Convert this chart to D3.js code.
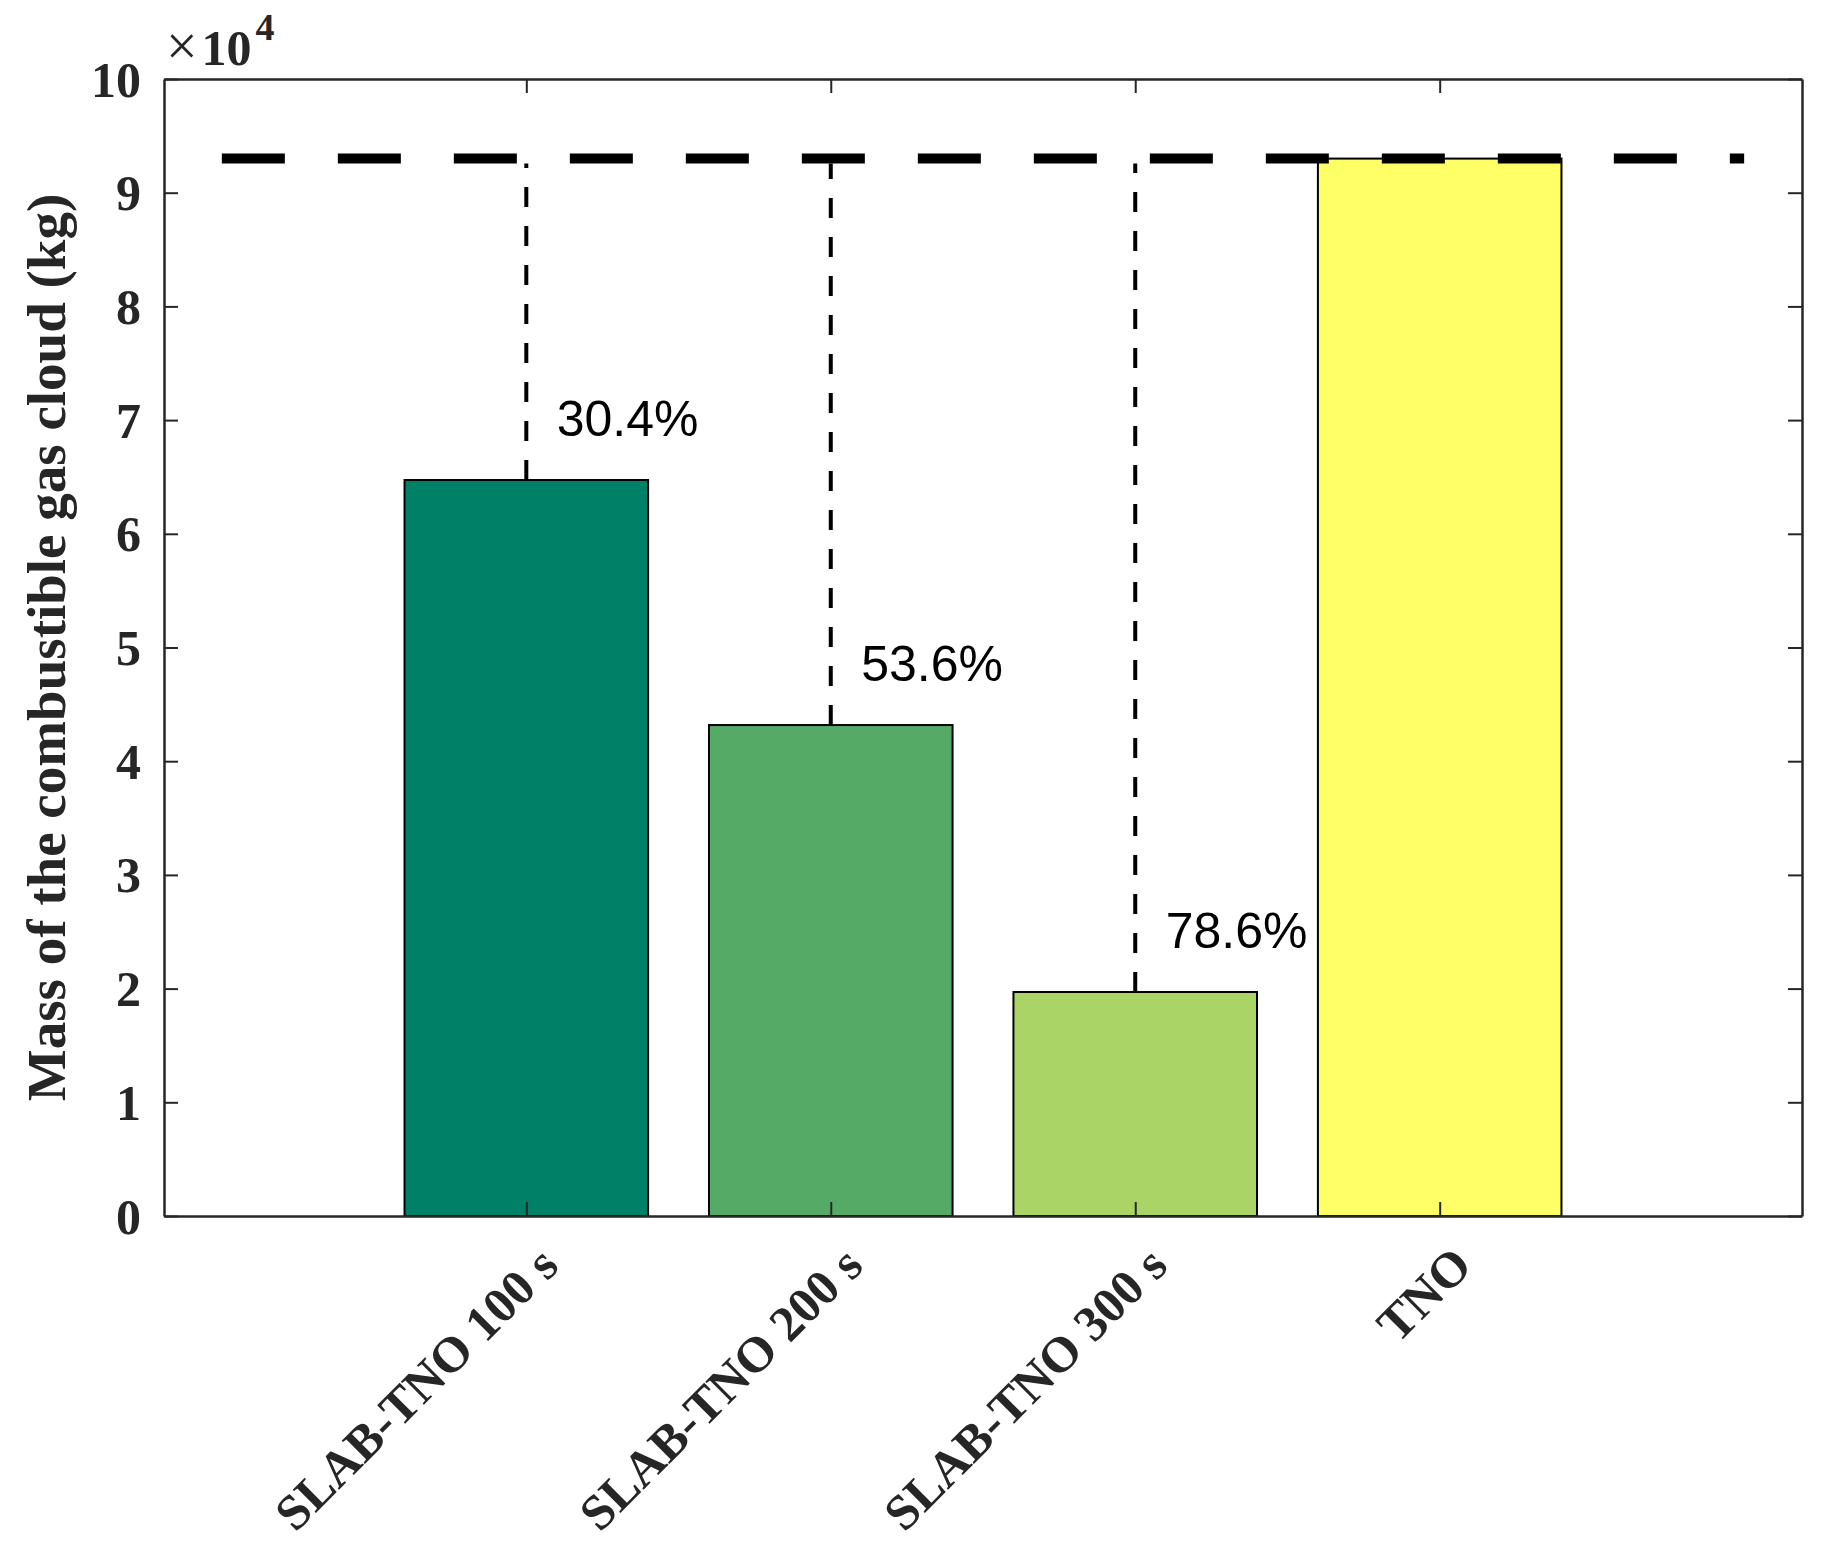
<!DOCTYPE html>
<html>
<head>
<meta charset="utf-8">
<script src="https://cdn.jsdelivr.net/npm/d3@7"></script>
<style>
  body { margin: 0; background: #fff; }
  svg { display: block; }
</style>
</head>
<body>
<div id="chart"></div>
<script>
// chart data
var categories = ["SLAB-TNO 100 s", "SLAB-TNO 200 s", "SLAB-TNO 300 s", "TNO"]
var masses = [64730, 43180, 19700, 93000]
var reductionLabels = ["30.4%", "53.6%", "78.6%"]
var barColors = ["#008066", "#55aa66", "#aad566", "#ffff66"]
var yTickValues = [0, 1, 2, 3, 4, 5, 6, 7, 8, 9, 10]
var refLevel = 93000
var refSpan = [0, 5]

var W = 1825, H = 1545
var margin = { top: 79, right: 23, bottom: 329, left: 164 }
var width = W - margin.left - margin.right,
  height = H - margin.top - margin.bottom

var serif = "'Liberation Serif', 'Times New Roman', serif"
var sans = "'Liberation Sans', Arial, Helvetica, sans-serif"
var axisColor = "#262626"

var svg = d3.select("#chart")
  .append("svg")
  .attr("width", W)
  .attr("height", H)

var g = svg.append("g")
  .attr("transform", "translate(" + margin.left + "," + margin.top + ")")

var x = d3.scaleLinear()
  .domain([-0.19, 5.19])
  .range([0, width])

var y = d3.scaleLinear()
  .domain([0, 100000])
  .range([height, 0])

var barWidth = x(0.8) - x(0)

// bars
g.selectAll(".bar")
  .data(masses)
  .enter()
  .append("rect")
  .attr("class", "bar")
  .attr("x", function (d, i) { return x(i + 1) - barWidth / 2 })
  .attr("y", function (d) { return y(d) })
  .attr("width", barWidth)
  .attr("height", function (d) { return y(0) - y(d) })
  .attr("fill", function (d, i) { return barColors[i] })
  .attr("stroke", "#000")
  .attr("stroke-width", 2)

// reference line at the TNO level
g.append("line")
  .attr("x1", x(refSpan[0]))
  .attr("x2", x(refSpan[1]))
  .attr("y1", y(refLevel))
  .attr("y2", y(refLevel))
  .attr("stroke", "#000")
  .attr("stroke-width", 10)
  .attr("stroke-dasharray", "63,53")

// vertical drop lines from the reference to each SLAB bar
g.selectAll(".drop")
  .data(masses.slice(0, 3))
  .enter()
  .append("line")
  .attr("class", "drop")
  .attr("x1", function (d, i) { return x(i + 1) })
  .attr("x2", function (d, i) { return x(i + 1) })
  .attr("y1", function (d) { return y(d) })
  .attr("y2", y(refLevel) + 5)
  .attr("stroke", "#000")
  .attr("stroke-width", 4)
  .attr("stroke-dasharray", "20,19")

// percentage labels
g.selectAll(".pct")
  .data(reductionLabels)
  .enter()
  .append("text")
  .attr("class", "pct")
  .attr("x", function (d, i) { return x(i + 1.1) })
  .attr("y", function (d, i) { return y(masses[i]) - 44 })
  .style("font-family", sans)
  .style("font-size", "50px")
  .attr("fill", "#000")
  .text(function (d) { return d })

// axes
function styleAxis(sel) {
  sel.select(".domain").attr("stroke", axisColor).attr("stroke-width", 2.5)
  sel.selectAll(".tick line").attr("stroke", axisColor).attr("stroke-width", 2)
}

var yLeft = g.append("g")
  .call(d3.axisLeft(y)
    .tickValues(yTickValues.map(function (v) { return v * 1e4 }))
    .tickFormat(function (d) { return d / 1e4 })
    .tickSizeInner(-14).tickSizeOuter(0).tickPadding(23))
yLeft.call(styleAxis)
yLeft.selectAll("text")
  .attr("dy", null)
  .attr("dominant-baseline", "central")
  .attr("fill", axisColor)
  .style("font-family", serif)
  .style("font-size", "50px")
  .style("font-weight", "bold")

var yRight = g.append("g")
  .attr("transform", "translate(" + width + ",0)")
  .call(d3.axisRight(y)
    .tickValues(yTickValues.map(function (v) { return v * 1e4 }))
    .tickFormat("")
    .tickSizeInner(-14).tickSizeOuter(0))
yRight.call(styleAxis)

var xBottom = g.append("g")
  .attr("transform", "translate(0," + height + ")")
  .call(d3.axisBottom(x)
    .tickValues([1, 2, 3, 4])
    .tickFormat(function (d) { return categories[d - 1] })
    .tickSizeInner(-14).tickSizeOuter(0))
xBottom.call(styleAxis)
xBottom.selectAll("text")
  .attr("y", null)
  .attr("dy", null)
  .attr("text-anchor", "end")
  .attr("transform", "translate(34,52) rotate(-45)")
  .attr("fill", axisColor)
  .style("font-family", serif)
  .style("font-size", "50px")
  .style("font-weight", "bold")

var xTop = g.append("g")
  .call(d3.axisTop(x)
    .tickValues([1, 2, 3, 4])
    .tickFormat("")
    .tickSizeInner(-14).tickSizeOuter(0))
xTop.call(styleAxis)

// exponent label
var expo = svg.append("text")
  .attr("x", 166)
  .attr("y", 65)
  .attr("fill", axisColor)
  .style("font-family", serif)
expo.append("tspan")
  .style("font-size", "56px")
  .text("\u00d7")
expo.append("tspan")
  .attr("dx", 4)
  .style("font-size", "50px")
  .style("font-weight", "bold")
  .text("10")
expo.append("tspan")
  .attr("dx", 4)
  .attr("dy", -25)
  .style("font-size", "38px")
  .style("font-weight", "bold")
  .text("4")

// y axis title
svg.append("text")
  .attr("transform", "translate(65," + (margin.top + height / 2) + ") rotate(-90)")
  .attr("text-anchor", "middle")
  .attr("fill", axisColor)
  .style("font-family", serif)
  .style("font-size", "55px")
  .style("font-weight", "bold")
  .text("Mass of the combustible gas cloud (kg)")
</script>
</body>
</html>
